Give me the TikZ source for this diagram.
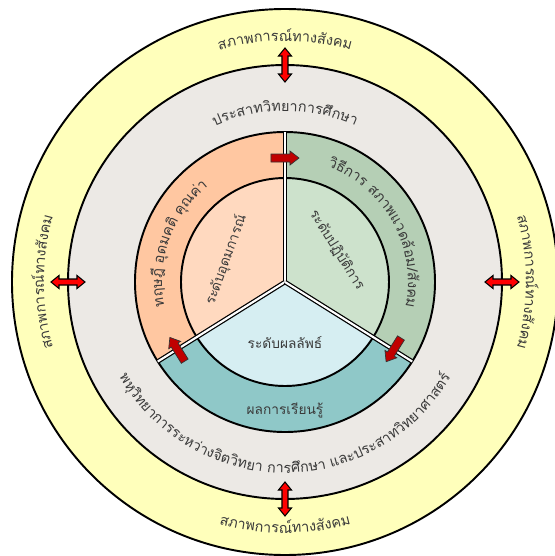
\documentclass[tikz,border=0pt]{standalone}
\usepackage{fontspec}
\newfontfamily\thaifont[Script=Thai]{Loma}
\newcommand\thaisize{\thaifont\fontsize{8.2}{10}\selectfont}
\newcommand\thaismall{\thaifont\fontsize{7.8}{9.5}\selectfont}
\usetikzlibrary{decorations.text}

\definecolor{socialyellow}{HTML}{FFFFBB}
\definecolor{neurogray}{HTML}{ECE9E5}
\definecolor{idealring}{HTML}{FFC7A1}
\definecolor{idealcore}{HTML}{FFD9BF}
\definecolor{practring}{HTML}{B5CFB5}
\definecolor{practcore}{HTML}{CDE2CC}
\definecolor{resultring}{HTML}{8FC8C8}
\definecolor{resultcore}{HTML}{D6EEF2}
\definecolor{darkarrow}{HTML}{C00000}
\definecolor{textgray}{HTML}{3A3A3A}

\tikzset{
  bothways/.pic={
    \filldraw[fill=red, draw=black, line width=0.6pt]
      (-17,0) -- (-9,6.5) -- (-9,3) -- (9,3) -- (9,6.5) -- (17,0)
      -- (9,-6.5) -- (9,-3) -- (-9,-3) -- (-9,-6.5) -- cycle;
  },
  oneway/.pic={
    \filldraw[fill=darkarrow, draw=black!80, line width=0.4pt]
      (-14,-4) -- (5,-4) -- (5,-7) -- (14,0) -- (5,7) -- (5,4) -- (-14,4) -- cycle;
  }
}

\begin{document}
\begin{tikzpicture}[x=0.02cm, y=0.02cm,
    rim/.style={draw=black, line width=1.1pt},
    spoke/.style={draw=black, line width=0.7pt, double=white, double distance=1.2pt},
    lvltext/.style={text=textgray, font=\thaismall, inner sep=0pt},
    arctext/.style={decorate, decoration={text along path, text align=center, text color=textgray, text={|\thaisize|#1}}}]
    \useasboundingbox (-285,-274) rectangle (270,282);
    \clip (-285,-274) rectangle (270,282);
    % Social and neuro rings
    \filldraw[rim, fill=socialyellow] (0,0) circle (273);
    \filldraw[rim, fill=neurogray] (0,0) circle (217);
    % Outer sectors
    \fill[idealring] (0,0) -- (90:150) arc[start angle=90, end angle=212, radius=150] -- cycle;
    \fill[resultring] (0,0) -- (212:150) arc[start angle=212, end angle=328, radius=150] -- cycle;
    \fill[practring] (0,0) -- (-32:150) arc[start angle=-32, end angle=90, radius=150] -- cycle;
    % Inner sectors
    \fill[idealcore] (0,0) -- (90:104) arc[start angle=90, end angle=212, radius=104] -- cycle;
    \fill[resultcore] (0,0) -- (212:104) arc[start angle=212, end angle=328, radius=104] -- cycle;
    \fill[practcore] (0,0) -- (-32:104) arc[start angle=-32, end angle=90, radius=104] -- cycle;
    \draw[rim] (0,0) circle (150);
    \draw[rim] (0,0) circle (104);
    % Dividers
    \coordinate (c) at (0,0);
    \coordinate (s1) at (90:150);
    \coordinate (s2) at (212:150);
    \coordinate (s3) at (-32:150);
    \draw[spoke] (c) -- (s1);
    \draw[spoke] (c) -- (s2);
    \draw[spoke] (c) -- (s3);
    % Arrows
    \pic[rotate=90] (atop) at (90:217) {bothways};
    \pic[rotate=90] (abottom) at (270:217) {bothways};
    \pic (aleft) at (180:217) {bothways};
    \pic (aright) at (0:217) {bothways};
    \pic (cw1) at (90:124) {oneway};
    \pic[rotate=-122] (cw2) at (-32:128) {oneway};
    \pic[rotate=122] (cw3) at (212:127) {oneway};
    % Curved labels
    \path[arctext={สภาพการ{ณ์}ทาง{สั}งคม}] (125:241) arc[start angle=125, end angle=55, radius=241];
    \path[arctext={สภาพการ{ณ์}ทาง{สั}งคม}] (235:251) arc[start angle=235, end angle=305, radius=251];
    \path[arctext={สภาพการ{ณ์}ทาง{สั}งคม}] (215:241) arc[start angle=215, end angle=145, radius=241];
    \path[arctext={สภาพการ{ณ์}ทาง{สั}งคม}] (35:241) arc[start angle=35, end angle=-35, radius=241];
    \path[arctext={ประสาท{วิ}ทยาการ{ศึ}กษา}] (130:171) arc[start angle=130, end angle=50, radius=171];
    \path[arctext={พ{หุ}{วิ}ทยาการระห{ว่}าง{จิ}ต{วิ}ทยา การ{ศึ}กษา และประสาท{วิ}ทยาศาสต{ร์}}] (195:191) arc[start angle=195, end angle=345, radius=191];
    \path[arctext={ทฤษ{ฎี}  {อุ}ดมค{ติ}  {คุ}ณ{ค่}า}] (215:123) arc[start angle=215, end angle=105, radius=123];
    \path[arctext={{วิ}{ธี}การ สภาพแวด{ล้}อม/{สั}งคม}] (85:123) arc[start angle=85, end angle=-27, radius=123];
    % Level labels
    \node[lvltext, rotate=70] (ideal) at (-59,22) {ระดับอุดมการณ์};
    \node[lvltext, rotate=-58] (practice) at (52,32) {ระดับปฏิบัติการ};
    \node[lvltext] (result) at (0,-61) {ระดับผลลัพธ์};
    \node[lvltext] (learning) at (0,-128) {ผลการเรียนรู้};
\end{tikzpicture}
\end{document}
